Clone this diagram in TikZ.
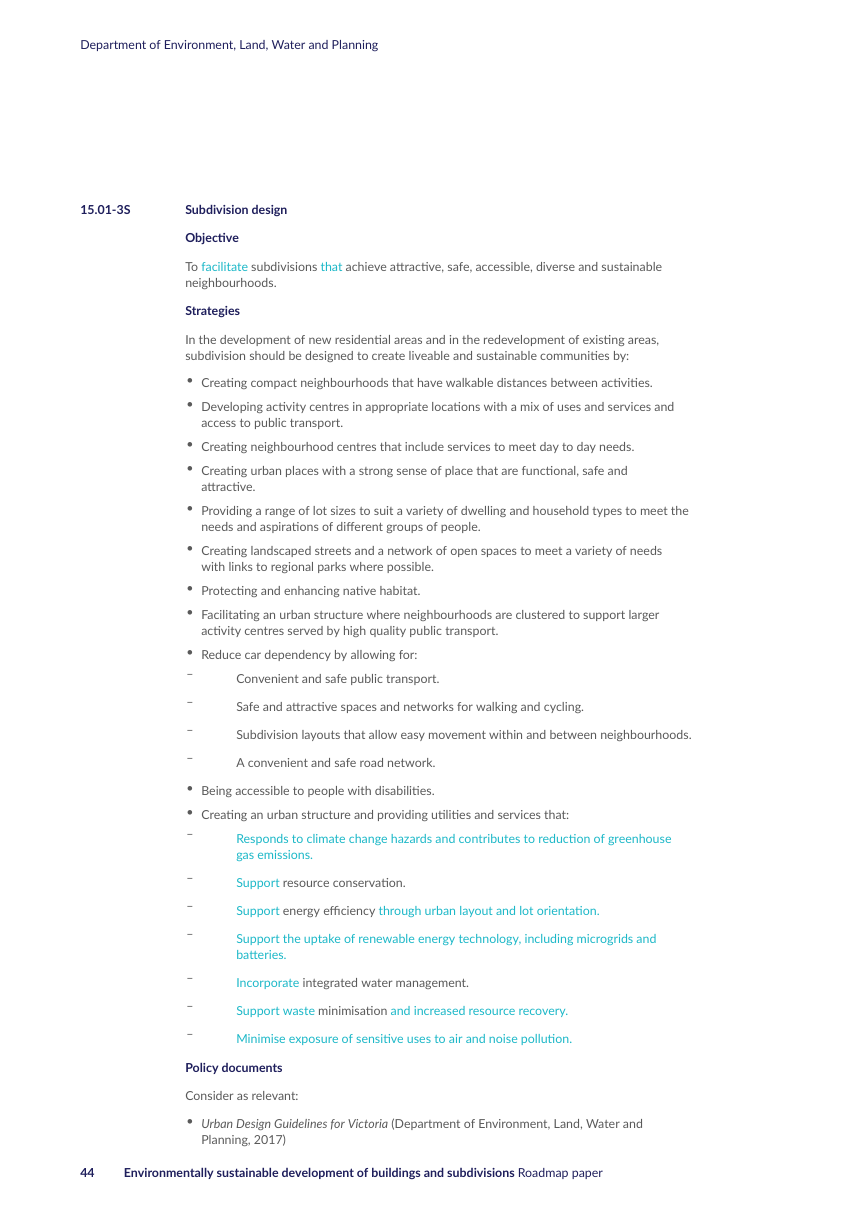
\documentclass[tikz,border=0pt]{standalone}
\usepackage{fontspec}
\setmainfont{Lato}
\usetikzlibrary{positioning}
\definecolor{navy}{HTML}{1F1F5C}
\definecolor{bodygrey}{HTML}{5A5A5A}
\definecolor{linkc}{HTML}{1CB8C8}
\newcommand{\hl}[1]{\textcolor{linkc}{#1}}

\begin{document}
\begin{tikzpicture}[x=0.75pt,y=-0.75pt,
    body/.style={anchor=north west,inner sep=0,align=left,text=bodygrey,font={\fontsize{9.3}{12}\selectfont}},
    head/.style={anchor=north west,inner sep=0,text=navy,font={\fontsize{9.3}{12}\selectfont\bfseries}},
    bulletmark/.style={anchor=north west,inner sep=0,text=bodygrey,font={\fontsize{9.3}{12}\selectfont}}]
\useasboundingbox[fill=white] (0,0) rectangle (856,1212);

% header and footer
\node[body,text=navy] (dept) at (80,40) {Department of Environment, Land, Water and Planning};
\node[body,text=navy] (foot) at (80,1168) {\textbf{44}\hspace{22pt}\textbf{Environmentally sustainable development of buildings and subdivisions} Roadmap paper};

% title
\node[head] (clause) at (80,205) {15.01-3S};
\node[head] (title) at (185,205) {Subdivision design};

% objective
\node[head] (obj) at (185,233) {Objective};
\node[body] (objtext) at (185,262) {To \hl{facilitate} subdivisions \hl{that} achieve attractive, safe, accessible, diverse and sustainable\\neighbourhoods.};

% strategies
\node[head] (strat) at (185,306) {Strategies};
\node[body] (intro) at (185,335) {In the development of new residential areas and in the redevelopment of existing areas,\\subdivision should be designed to create liveable and sustainable communities by:};

\foreach \y/\t in {
  378/{Creating compact neighbourhoods that have walkable distances between activities.},
  402/{Developing activity centres in appropriate locations with a mix of uses and services and\\access to public transport.},
  442/{Creating neighbourhood centres that include services to meet day to day needs.},
  466/{Creating urban places with a strong sense of place that are functional, safe and\\attractive.},
  506/{Providing a range of lot sizes to suit a variety of dwelling and household types to meet the\\needs and aspirations of different groups of people.},
  546/{Creating landscaped streets and a network of open spaces to meet a variety of needs\\with links to regional parks where possible.},
  586/{Protecting and enhancing native habitat.},
  610/{Facilitating an urban structure where neighbourhoods are clustered to support larger\\activity centres served by high quality public transport.},
  650/{Reduce car dependency by allowing for:},
  786/{Being accessible to people with disabilities.},
  810/{Creating an urban structure and providing utilities and services that:},
  1119/{\textit{Urban Design Guidelines for Victoria} (Department of Environment, Land, Water and\\Planning, 2017)}}
{
  \node[bulletmark] (b\y) at (186,\y) {\textbullet};
  \node[body] (bt\y) at (201,\y) {\t};
}

\foreach \y/\t in {
  674/{Convenient and safe public transport.},
  702/{Safe and attractive spaces and networks for walking and cycling.},
  730/{Subdivision layouts that allow easy movement within and between neighbourhoods.},
  758/{A convenient and safe road network.},
  834/{\hl{Responds to climate change hazards and contributes to reduction of greenhouse}\\\hl{gas emissions.}},
  878/{\hl{Support} resource conservation.},
  906/{\hl{Support} energy efficiency \hl{through urban layout and lot orientation.}},
  934/{\hl{Support the uptake of renewable energy technology, including microgrids and}\\\hl{batteries.}},
  978/{\hl{Incorporate} integrated water management.},
  1006/{\hl{Support waste} minimisation \hl{and increased resource recovery.}},
  1034/{\hl{Minimise exposure of sensitive uses to air and noise pollution.}}}
{
  \node[bulletmark] (d\y) at (186,\y) {--};
  \node[body] (dt\y) at (236,\y) {\t};
}

% policy documents
\node[head] (policy) at (185,1063) {Policy documents};
\node[body] (consider) at (185,1091) {Consider as relevant:};
\end{tikzpicture}
\end{document}
